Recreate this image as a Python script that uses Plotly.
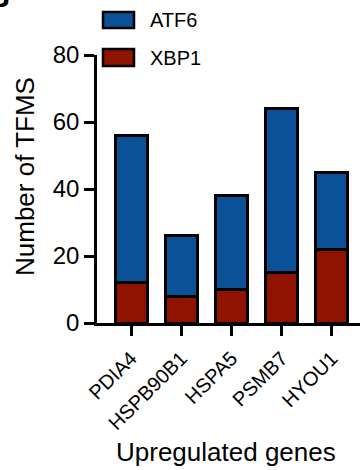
import plotly.graph_objects as go

genes = ["PDIA4", "HSPB90B1", "HSPA5", "PSMB7", "HYOU1"]
xbp1 = [12, 8, 10, 15, 22]
atf6 = [44, 18, 28, 49, 23]  # stacked on top of XBP1 (totals 56, 26, 38, 64, 45)
y_ticks = [0, 20, 40, 60, 80]

BLUE = "#0a5197"
RED = "#8f1300"
FONT = "Arial"

W, H = 360, 470
L, R, T, B = 97, 0, 55, 147
pw, ph = W - L - R, H - T - B

def px(x):
    return (x - L) / pw

def py(y):
    return (H - B - y) / ph

fig = go.Figure()
fig.add_trace(go.Bar(x=genes, y=xbp1, name="XBP1", marker=dict(color=RED, line=dict(color="black", width=3))))
fig.add_trace(go.Bar(x=genes, y=atf6, name="ATF6", marker=dict(color=BLUE, line=dict(color="black", width=3))))

shapes = []
annotations = []
# manual legend
for (name, color, y0, y1) in [("ATF6", BLUE, 12, 28), ("XBP1", RED, 49, 66)]:
    shapes.append(dict(type="rect", xref="paper", yref="paper",
                       x0=px(103), x1=px(134), y0=py(y1), y1=py(y0),
                       fillcolor=color, line=dict(color="black", width=2.5)))
    annotations.append(dict(text=name, xref="paper", yref="paper", x=px(148), y=py((y0 + y1) / 2),
                            xanchor="left", yanchor="middle", showarrow=False,
                            font=dict(family=FONT, size=20, color="black")))

# axis titles
annotations.append(dict(text="Number of TFMS", xref="paper", yref="paper", x=px(25), y=py(177),
                        textangle=-90, xanchor="center", yanchor="middle", showarrow=False,
                        font=dict(family=FONT, size=26, color="black")))
annotations.append(dict(text="Upregulated genes", xref="paper", yref="paper", x=px(226), y=py(452),
                        xanchor="center", yanchor="middle", showarrow=False,
                        font=dict(family=FONT, size=26, color="black")))
# panel letter (cropped at the corner, as in the reference)
annotations.append(dict(text="<b>B</b>", xref="paper", yref="paper", x=px(12), y=py(15),
                        xanchor="right", yanchor="bottom", showarrow=False,
                        font=dict(family=FONT, size=30, color="black")))

fig.update_layout(
    width=W, height=H,
    margin=dict(l=L, r=R, t=T, b=B, pad=0),
    barmode="stack", bargap=0.36,
    plot_bgcolor="white", paper_bgcolor="white",
    showlegend=False,
    shapes=shapes, annotations=annotations,
    font=dict(family=FONT, color="black"),
    xaxis=dict(range=[-0.68, 4.56], showline=True, linecolor="black", linewidth=2.5,
               ticks="outside", ticklen=10, tickwidth=2.5, tickcolor="black",
               tickangle=-45, ticklabelstandoff=3,
               tickfont=dict(family=FONT, size=20, color="black"),
               showgrid=False, zeroline=False, fixedrange=True),
    yaxis=dict(range=[0, 80], tickvals=y_ticks, showline=True, linecolor="black", linewidth=2.5,
               ticks="outside", ticklen=10, tickwidth=2.5, tickcolor="black",
               tickfont=dict(family=FONT, size=24, color="black"),
               showgrid=False, zeroline=False, fixedrange=True),
)
fig.write_html("out.html", config={"displayModeBar": False})
